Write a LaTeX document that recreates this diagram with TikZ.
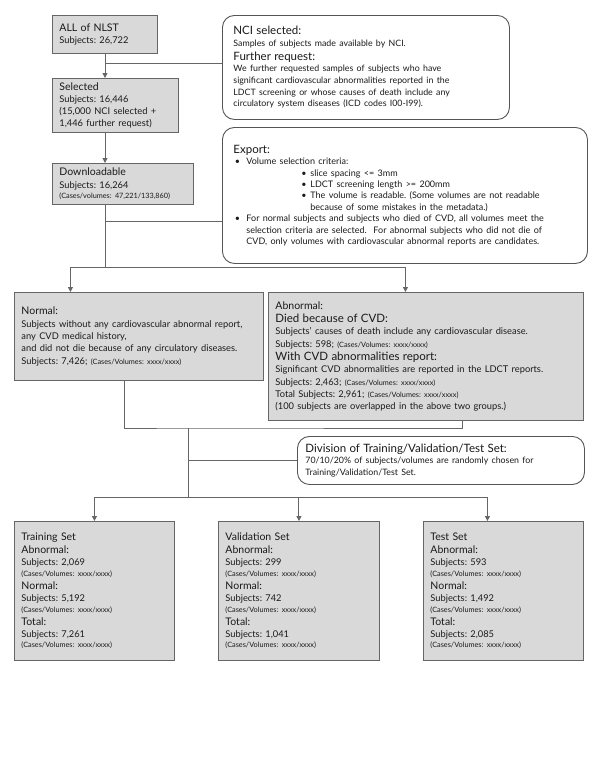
\documentclass[tikz,border=0pt]{standalone}
\usepackage{fontspec}
\setmainfont{Lato}
\usetikzlibrary{arrows.meta}
\definecolor{boxC}{HTML}{D9D9D9}
\definecolor{lineC}{HTML}{666666}
\definecolor{rC}{HTML}{555555}
\definecolor{txtC}{HTML}{1A1A1A}
\newcommand\fHd{\fontsize{11.5}{13.5}\selectfont}
\newcommand\fHm{\fontsize{10.5}{13}\selectfont}
\newcommand\fBd{\fontsize{9.3}{12.3}\selectfont}
\newcommand\fNc{\fontsize{8.8}{11.7}\selectfont}
\newcommand\fSm{\fontsize{7.3}{10.5}\selectfont}
\frenchspacing
\tikzset{
  gbox/.style={draw=lineC, fill=boxC, line width=0.9pt, anchor=north west, inner xsep=7pt, inner ysep=3pt, align=left, text=txtC},
  rbox/.style={draw=rC, fill=white, rounded corners=12pt, line width=0.9pt, anchor=north west, inner xsep=11pt, inner ysep=3pt, align=left, text=txtC},
  conn/.style={draw=lineC, line width=1pt},
  arr/.style={conn, -{Triangle[length=5pt,width=5pt]}}
}
\begin{document}
\begin{tikzpicture}[x=1pt,y=-1pt]
\useasboundingbox (0,0) rectangle (598,774);
% top boxes
\node[gbox, minimum width=105, minimum height=38, text width=91] (all) at (52,15)
 {{\fHm ALL of NLST\par}{\fBd Subjects: 26,722\par}};
\node[gbox, minimum width=126, minimum height=54, text width=112] (sel) at (52,78)
 {{\fHm Selected\par}{\fBd Subjects: 16,446\par (15,000 NCI selected +\par 1,446 further request)\par}};
\node[gbox, minimum width=141, minimum height=41, text width=127] (dl) at (52,163)
 {{\fHm Downloadable\par}{\fBd Subjects: 16,264\par}{\fSm (Cases/volumes: 47,221/133,860)\par}};
% notes
\node[rbox, minimum width=287, minimum height=104, text width=265] (nci) at (222,15)
 {{\fHd NCI selected:\par}{\fNc Samples of subjects made available by NCI.\par}{\fHd Further request:\par}
  {\fNc We further requested samples of subjects who have\par significant cardiovascular abnormalities reported in the\par LDCT screening or whose causes of death include any\par circulatory system diseases (ICD codes I00-I99).\par}};
\node[rbox, minimum width=365, minimum height=136, text width=343] (exp) at (222,127)
 {{\fHd Export:\par}{\fontsize{9}{11.4}\selectfont
  \makebox[13pt][l]{\,•}Volume selection criteria:\par
  \hspace*{68pt}\makebox[9pt][l]{•}slice spacing <= 3mm\par
  \hspace*{68pt}\makebox[9pt][l]{•}LDCT screening length >= 200mm\par
  \hspace*{68pt}\makebox[9pt][l]{•}The volume is readable. (Some volumes are not readable\par
  \hspace*{77pt}because of some mistakes in the metadata.)\par
  \makebox[13pt][l]{\,•}For normal subjects and subjects who died of CVD, all volumes meet the\par
  \hspace*{13pt}selection criteria are selected.\ \ For abnormal subjects who did not die of\par
  \hspace*{13pt}CVD, only volumes with cardiovascular abnormal reports are candidates.\par}};
% normal / abnormal
\node[gbox, minimum width=249, minimum height=88, text width=235] (normal) at (14,292)
 {{\fHm Normal:\par}{\fBd Subjects without any cardiovascular abnormal report,\par any CVD medical history,\par and did not die because of any circulatory diseases.\par Subjects: 7,426; {\fSm (Cases/Volumes: xxxx/xxxx)}\par}};
\node[gbox, minimum width=315, minimum height=128, text width=301] (abn) at (268,292)
 {{\fHm Abnormal:\par}{\fHd Died because of CVD:\par}
  {\fBd Subjects' causes of death include any cardiovascular disease.\par Subjects: 598; {\fSm (Cases/Volumes: xxxx/xxxx)}\par}
  {\fHd With CVD abnormalities report:\par}
  {\fBd Significant CVD abnormalities are reported in the LDCT reports.\par Subjects: 2,463; {\fSm (Cases/Volumes: xxxx/xxxx)}\par
  Total Subjects: 2,961; {\fSm (Cases/Volumes: xxxx/xxxx)}\par
  (100 subjects are overlapped in the above two groups.)\par}};
% division
\node[rbox, minimum width=287, minimum height=48, text width=271, inner xsep=8pt] (div) at (297,436)
 {{\fHd Division of Training/Validation/Test Set:\par}{\fNc 70/10/20\% of subjects/volumes are randomly chosen for\par Training/Validation/Test Set.\par}};
% sets
\node[gbox, minimum width=160, minimum height=139, text width=146] (train) at (14,521)
 {{\fHm Training Set\par Abnormal:\par}{\fBd Subjects: 2,069\par}{\fSm (Cases/Volumes: xxxx/xxxx)\par}
  {\fHm Normal:\par}{\fBd Subjects: 5,192\par}{\fSm (Cases/Volumes: xxxx/xxxx)\par}
  {\fHm Total:\par}{\fBd Subjects: 7,261\par}{\fSm (Cases/Volumes: xxxx/xxxx)\par}};
\node[gbox, minimum width=161, minimum height=139, text width=147] (val) at (218,521)
 {{\fHm Validation Set\par Abnormal:\par}{\fBd Subjects: 299\par}{\fSm (Cases/Volumes: xxxx/xxxx)\par}
  {\fHm Normal:\par}{\fBd Subjects: 742\par}{\fSm (Cases/Volumes: xxxx/xxxx)\par}
  {\fHm Total:\par}{\fBd Subjects: 1,041\par}{\fSm (Cases/Volumes: xxxx/xxxx)\par}};
\node[gbox, minimum width=160, minimum height=139, text width=146] (test) at (423,521)
 {{\fHm Test Set\par Abnormal:\par}{\fBd Subjects: 593\par}{\fSm (Cases/Volumes: xxxx/xxxx)\par}
  {\fHm Normal:\par}{\fBd Subjects: 1,492\par}{\fSm (Cases/Volumes: xxxx/xxxx)\par}
  {\fHm Total:\par}{\fBd Subjects: 2,085\par}{\fSm (Cases/Volumes: xxxx/xxxx)\par}};
% connectors
\coordinate (j1) at (105,63);
\coordinate (j2) at (105,221);
\coordinate (j3) at (105,267);
\coordinate (j4) at (188,428);
\coordinate (j5) at (188,497);
\draw[arr] (all.south -| j1) -- (sel.north -| j1);
\draw[arr] (sel.south -| j1) -- (dl.north -| j1);
\draw[conn] (j1) -- (j1 -| nci.west);
\draw[conn] (dl.south -| j1) -- (j3);
\draw[conn] (j2) -- (j2 -| exp.west);
\draw[arr] (j3) -| ([xshift=-68.5]normal.north);
\draw[arr] (j3) -| ([xshift=-20.5]abn.north);
\draw[conn] ([xshift=-14.5]normal.south) |- (j4) -| ([xshift=36.5]abn.south);
\draw[conn] (j4) -- (j5);
\draw[conn] (j4 |- div.west) -- (div.west);
\draw[arr] (j5) -| (train.north);
\draw[arr] (j5 -| val.north) -- (val.north);
\draw[arr] (j5) -| ([xshift=-16]test.north);
\end{tikzpicture}
\end{document}
